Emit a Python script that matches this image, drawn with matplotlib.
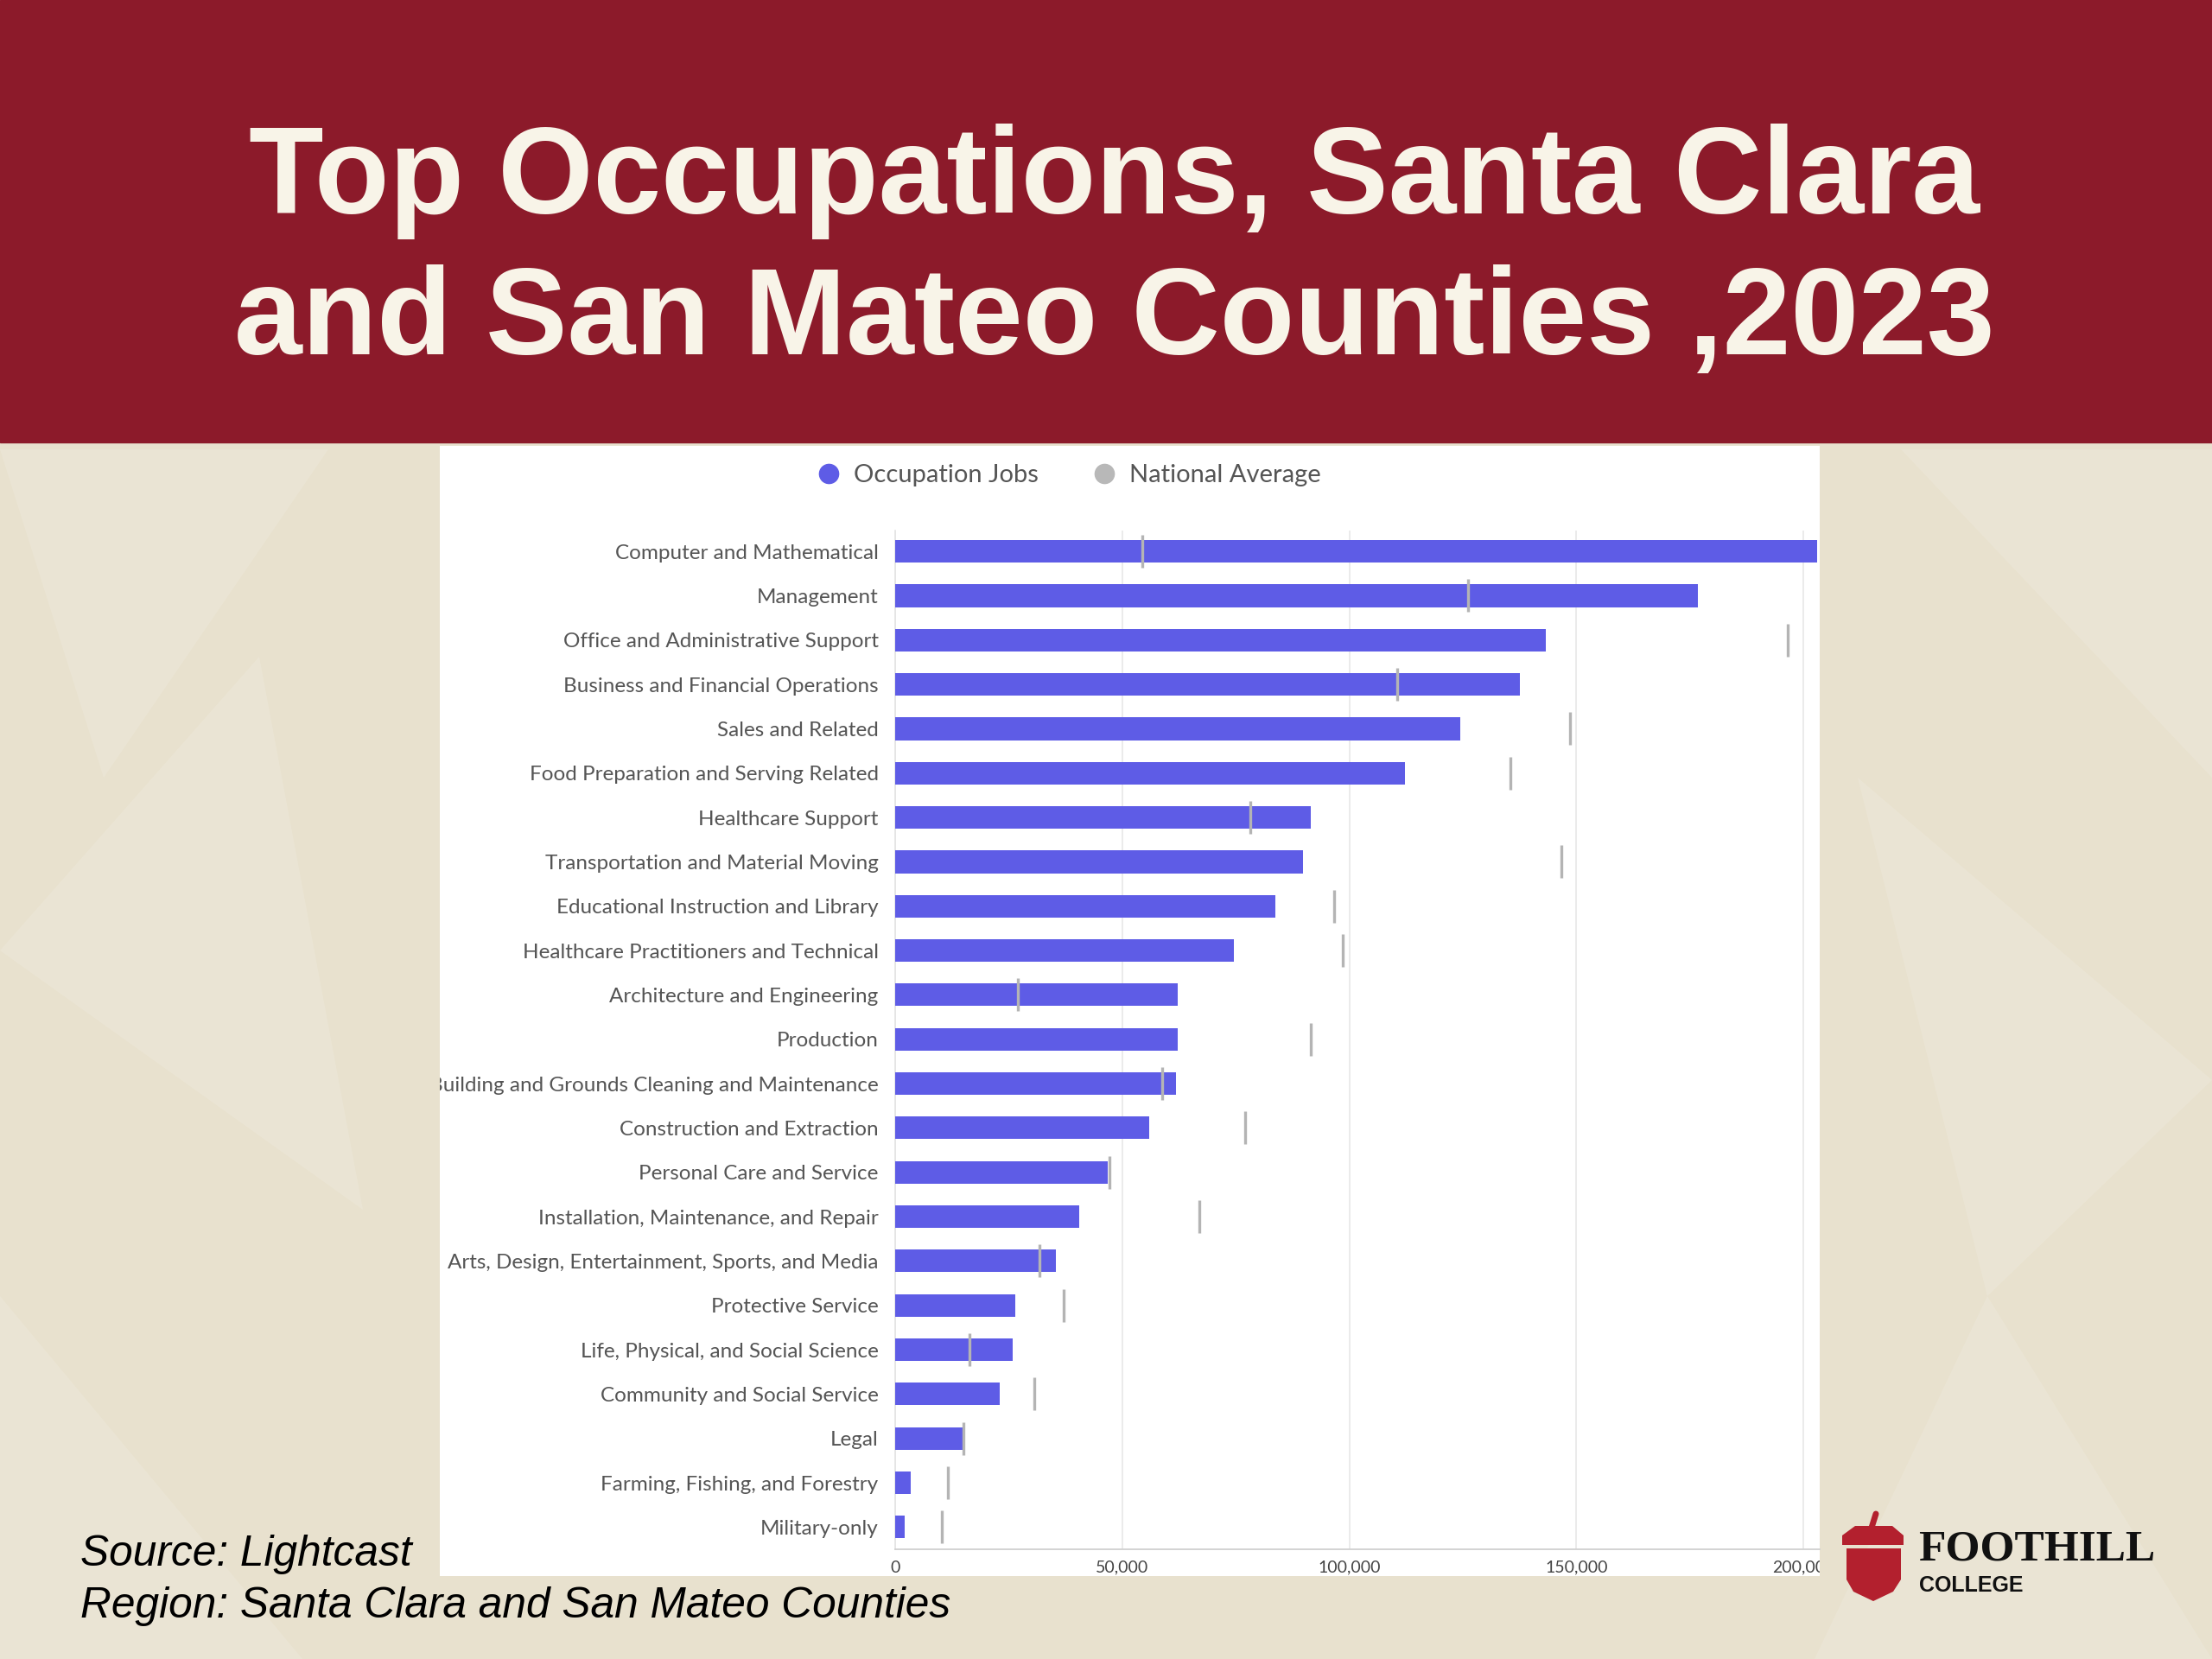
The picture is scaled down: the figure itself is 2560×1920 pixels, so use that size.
import matplotlib
matplotlib.use("Agg")
import matplotlib.pyplot as plt
from matplotlib.patches import Rectangle, Polygon
from matplotlib.lines import Line2D
import numpy as np

# data (jobs, 2023)
occupations = [
    "Computer and Mathematical", "Management", "Office and Administrative Support",
    "Business and Financial Operations", "Sales and Related",
    "Food Preparation and Serving Related", "Healthcare Support",
    "Transportation and Material Moving", "Educational Instruction and Library",
    "Healthcare Practitioners and Technical", "Architecture and Engineering",
    "Production", "Building and Grounds Cleaning and Maintenance",
    "Construction and Extraction", "Personal Care and Service",
    "Installation, Maintenance, and Repair", "Arts, Design, Entertainment, Sports, and Media",
    "Protective Service", "Life, Physical, and Social Science",
    "Community and Social Service", "Legal", "Farming, Fishing, and Forestry",
    "Military-only",
]
occupation_jobs = [203000, 176800, 143200, 137500, 124400, 112300, 91600,
                   89800, 83800, 74600, 62300, 62300, 61900, 55900, 46900,
                   40600, 35400, 26400, 25800, 23000, 14800, 3500, 2000]
national_average = [54500, 126200, 196500, 110500, 148600, 135400, 78300,
                    146700, 96700, 98600, 27000, 91600, 58800, 77000, 47100,
                    67000, 31800, 37100, 16400, 30700, 15000, 11700, 10200]
xticks = [0, 50000, 100000, 150000, 200000]

BAR = "#5E5CE6"
NAT = "#b4b4b4"
W, H = 2560, 1920

fig = plt.figure(figsize=(25.6, 19.2), dpi=100)

# slide background
bg = fig.add_axes([0, 0, 1, 1])
bg.set_xlim(0, W)
bg.set_ylim(H, 0)
bg.axis("off")
bg.add_patch(Rectangle((0, 0), W, H, color="#e8e1ce", zorder=0))
tri = [
    [(0, 520), (380, 520), (120, 900)],
    [(0, 1100), (300, 760), (420, 1400)],
    [(2200, 520), (2560, 520), (2560, 900)],
    [(2150, 900), (2560, 1250), (2300, 1500)],
    [(0, 1500), (350, 1920), (0, 1920)],
    [(2300, 1500), (2560, 1920), (2100, 1920)],
]
for t in tri:
    bg.add_patch(Polygon(t, closed=True, color="white", alpha=0.13, lw=0, zorder=1))
bg.add_patch(Rectangle((0, 0), W, 512, color="#8c1a2a", zorder=2))

fig.text(1290 / W, 1 - 247 / H, "Top Occupations, Santa Clara", ha="center", va="baseline",
         fontsize=102, fontweight="bold", family="Liberation Sans", color="#f8f4e8")
fig.text(1290 / W, 1 - 410 / H, "and San Mateo Counties ,2023", ha="center", va="baseline",
         fontsize=102, fontweight="bold", family="Liberation Sans", color="#f8f4e8")

# white chart panel
panel = fig.add_axes([509 / W, 1 - 1824 / H, (2106 - 509) / W, (1824 - 516) / H])
panel.set_facecolor("white")
panel.set_xticks([])
panel.set_yticks([])
for s in panel.spines.values():
    s.set_visible(False)
panel.set_zorder(1)

ax = fig.add_axes([1036 / W, 1 - 1793 / H, (2106 - 1036) / W, (1793 - 614) / H])
ax.set_zorder(2)
ax.set_facecolor("none")
y = np.arange(len(occupations))
ax.barh(y, occupation_jobs, height=0.51, color=BAR, zorder=3)
ax.plot(national_average, y, ls="none", marker="|", ms=27, mew=2.4, color=NAT, zorder=4)

ax.set_xlim(0, 203600)
ax.set_ylim(len(occupations) - 0.5, -0.47)
ax.set_xticks(xticks)
ax.set_xticklabels([f"{v:,}" for v in xticks], fontsize=14, color="#444444", family="Lato")
ax.set_yticks(y)
ax.set_yticklabels(occupations, fontsize=17.5, color="#555555", family="Lato")
ax.tick_params(axis="both", length=0)
ax.tick_params(axis="y", pad=14)
ax.tick_params(axis="x", pad=9)
ax.xaxis.grid(True, color="#e8e8e8", lw=1.2, zorder=0)
ax.set_axisbelow(True)
for side in ["top", "right"]:
    ax.spines[side].set_visible(False)
ax.spines["bottom"].set_color("#d0d0d0")
ax.spines["bottom"].set_linewidth(1.3)
ax.spines["left"].set_color("#e4e4e4")
ax.spines["left"].set_linewidth(1.2)
for lab in ax.get_xticklabels() + ax.get_yticklabels():
    lab.set_clip_on(True)
    lab.set_clip_box(panel.bbox)

handles = [Line2D([], [], ls="none", marker="o", ms=16, color=BAR),
           Line2D([], [], ls="none", marker="o", ms=16, color="#b8b8b8")]
fig.legend(handles, ["Occupation Jobs", "National Average"], loc="center",
           bbox_to_anchor=(1238 / W, 1 - 550 / H), ncol=2, frameon=False,
           prop={"family": "Lato", "size": 21}, labelcolor="#555555",
           handlelength=0.8, handletextpad=0.6, columnspacing=2.2)

# source note
fig.text(93 / W, 1 - 1812 / H, "Source: Lightcast", fontsize=35.7, style="italic",
         family="Liberation Sans", color="black", va="baseline", zorder=5)
fig.text(93 / W, 1 - 1872 / H, "Region: Santa Clara and San Mateo Counties", fontsize=35.7,
         style="italic", family="Liberation Sans", color="black", va="baseline", zorder=5)

# Foothill logo
lg = fig.add_axes([2120 / W, 1 - 1860 / H, 100 / W, 120 / H])
lg.set_xlim(2120, 2220)
lg.set_ylim(1860, 1740)
lg.axis("off")
red = "#b3202e"
lg.plot([2166, 2171], [1768, 1752], color=red, lw=5, solid_capstyle="round")
lg.add_patch(Polygon([(2147, 1766), (2190, 1766), (2203, 1777), (2203, 1788),
                      (2132, 1788), (2132, 1777)], closed=True, color=red, lw=0))
lg.add_patch(Polygon([(2137, 1792), (2200, 1792), (2200, 1828), (2191, 1842),
                      (2168, 1853), (2145, 1842), (2137, 1828)], closed=True, color=red, lw=0))
fig.text(2220 / W, 1 - 1805 / H, "FOOTHILL", fontsize=37, family="Liberation Serif",
         fontweight="bold", color="#111111", va="baseline")
fig.text(2221 / W, 1 - 1842 / H, "COLLEGE", fontsize=18, family="Liberation Sans",
         fontweight="bold", color="#111111", va="baseline")

fig.savefig("out.png", dpi=100)
